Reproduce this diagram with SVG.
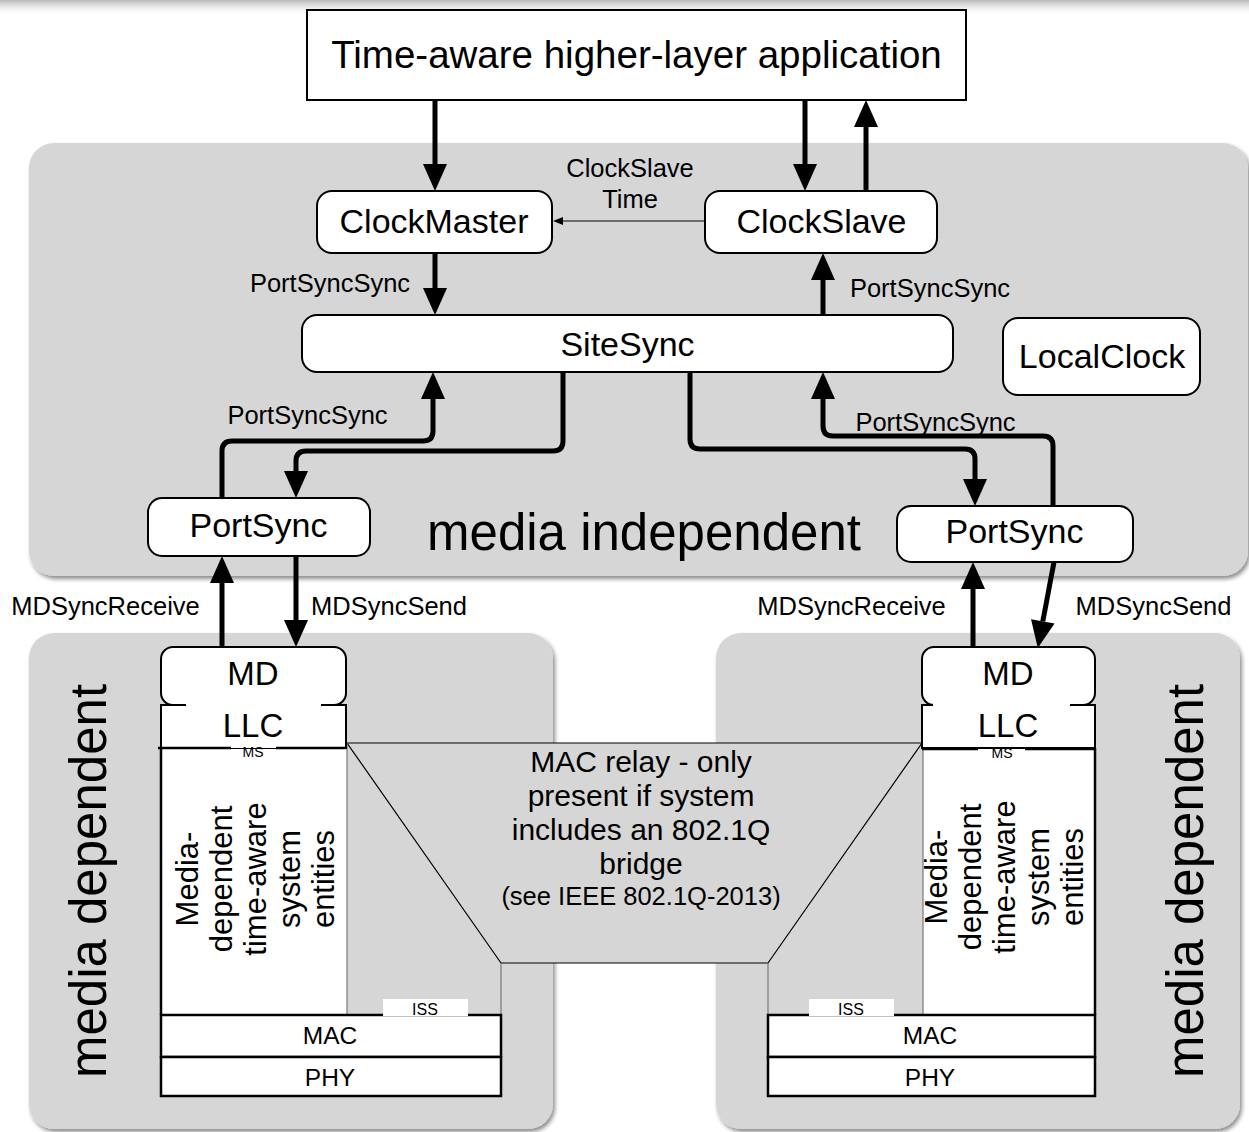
<svg xmlns="http://www.w3.org/2000/svg" width="1249" height="1132" viewBox="0 0 1249 1132">
<defs>
<style>
text{font-family:"Liberation Sans",Arial,sans-serif;fill:#000;text-anchor:middle}
.panel{fill:#d6d6d6;filter:url(#sh)}
.box{fill:#fff;stroke:#000;stroke-width:2}
.big{font-size:34px}
.lbl{font-size:25.5px}
.conn path{fill:none;stroke:#000;stroke-width:5;marker-end:url(#ah)}
.thin{stroke:#777;stroke-width:1.2;fill:none}
.thick{stroke:#000;stroke-width:2.5;fill:none}
</style>
<linearGradient id="topg" x1="0" y1="0" x2="0" y2="1">
<stop offset="0" stop-color="#b8b8b8"/>
<stop offset="1" stop-color="#fff" stop-opacity="0"/>
</linearGradient>
<filter id="sh" x="-5%" y="-5%" width="110%" height="115%">
<feDropShadow dx="2" dy="3" stdDeviation="2" flood-color="#000" flood-opacity="0.45"/>
</filter>
<marker id="ah" markerUnits="userSpaceOnUse" markerWidth="27" markerHeight="24" viewBox="0 0 27 24" refX="0" refY="12" orient="auto" overflow="visible">
<path d="M0,0 L27,12 L0,24 z" fill="#000"/>
</marker>
<marker id="ahs" markerUnits="userSpaceOnUse" markerWidth="10" markerHeight="8" viewBox="0 0 10 8" refX="0" refY="4" orient="auto" overflow="visible">
<path d="M0,0 L10,4 L0,8 z" fill="#000"/>
</marker>
</defs>
<rect x="0" y="0" width="1249" height="16" fill="url(#topg)"/>

<g id="panels">
<rect id="media-independent-panel" class="panel" x="29" y="143" width="1219" height="433" rx="25"/>
<rect id="media-dependent-left-panel" class="panel" x="29" y="633" width="524" height="496" rx="25"/>
<rect id="media-dependent-right-panel" class="panel" x="716" y="633" width="524" height="496" rx="25"/>
</g>

<g id="mac-relay">
<polygon points="347,743 922,743 768,963 501,963" fill="#d6d6d6" stroke="#000" stroke-width="1.2"/>
<text x="641" y="772" font-size="30">MAC relay - only</text>
<text x="641" y="806" font-size="30">present if system</text>
<text x="641" y="840" font-size="30">includes an 802.1Q</text>
<text x="641" y="874" font-size="30">bridge</text>
<text x="641" y="905" font-size="25.5">(see IEEE 802.1Q-2013)</text>
</g>

<g id="top-app">
<rect x="307" y="10" width="659" height="90" fill="#fff" stroke="#000" stroke-width="2"/>
<text x="636.5" y="68" font-size="38.5">Time-aware higher-layer application</text>
</g>
<g id="clockmaster"><rect class="box" x="317" y="191" width="235" height="62" rx="15"/><text class="big" x="434" y="233">ClockMaster</text></g>
<g id="clockslave"><rect class="box" x="705" y="191" width="232" height="62" rx="15"/><text class="big" x="821.5" y="233">ClockSlave</text></g>
<g id="sitesync"><rect class="box" x="302" y="315" width="651" height="57" rx="15"/><text class="big" x="627.5" y="356">SiteSync</text></g>
<g id="localclock"><rect class="box" x="1003" y="318" width="197" height="77" rx="15"/><text class="big" x="1102" y="368">LocalClock</text></g>
<g id="portsync-left"><rect class="box" x="148" y="498" width="222" height="58" rx="14"/><text class="big" x="258.5" y="537">PortSync</text></g>
<g id="portsync-right"><rect class="box" x="897" y="506" width="236" height="56" rx="14"/><text class="big" x="1014.5" y="543">PortSync</text></g>

<text x="644" y="550" font-size="51">media independent</text>
<text transform="translate(106,881) rotate(-90)" font-size="51">media dependent</text>
<text transform="translate(1203,881) rotate(-90)" font-size="51">media dependent</text>

<g id="left-stack">
<rect x="161" y="748" width="186" height="267" fill="#fff"/>
<line class="thin" x1="347" y1="743" x2="347" y2="1015"/>
<line class="thin" x1="501" y1="963" x2="501" y2="1015"/>
<line class="thick" x1="161" y1="748" x2="161" y2="1015"/>
<g id="md-left">
<rect x="161" y="705" width="185" height="43" fill="#fff" stroke="#000" stroke-width="2"/>
<rect x="161" y="647" width="185" height="58" rx="12" fill="#fff" stroke="#000" stroke-width="2"/>
<rect x="186" y="702" width="135" height="6" fill="#fff"/>
<text x="253" y="685" font-size="33">MD</text>
<text x="253" y="737" font-size="33">LLC</text>
<line class="thick" x1="158" y1="748" x2="231" y2="748"/>
<line class="thick" x1="276" y1="748" x2="346" y2="748"/>
<rect x="231" y="744" width="45" height="4" fill="#fff"/>
<text x="253" y="757" font-size="14">MS</text>
</g>
<g font-size="31">
<text transform="translate(198,879) rotate(-90)">Media-</text>
<text transform="translate(232,879) rotate(-90)">dependent</text>
<text transform="translate(266,879) rotate(-90)">time-aware</text>
<text transform="translate(300,879) rotate(-90)">system</text>
<text transform="translate(334,879) rotate(-90)">entities</text>
</g>
<g id="mac-left"><rect x="161" y="1015" width="340" height="42" fill="#fff" stroke="#000" stroke-width="2.5"/><text x="330" y="1044" font-size="24.5">MAC</text></g>
<g id="phy-left"><rect x="161" y="1057" width="340" height="39" fill="#fff" stroke="#000" stroke-width="2.5"/><text x="330" y="1086" font-size="24.5">PHY</text></g>
<g id="iss-left"><rect x="383" y="999" width="85" height="17" fill="#fff"/><text x="425" y="1015" font-size="16">ISS</text></g>
</g>

<g id="right-stack">
<rect x="923" y="748" width="172" height="267" fill="#fff"/>
<line class="thin" x1="923" y1="743" x2="923" y2="1015"/>
<line class="thin" x1="768" y1="963" x2="768" y2="1015"/>
<line class="thick" x1="1095" y1="748" x2="1095" y2="1015"/>
<g id="md-right">
<rect x="922" y="705" width="173" height="43" fill="#fff" stroke="#000" stroke-width="2"/>
<rect x="922" y="647" width="173" height="58" rx="12" fill="#fff" stroke="#000" stroke-width="2"/>
<rect x="933" y="702" width="137" height="6" fill="#fff"/>
<text x="1008" y="685" font-size="33">MD</text>
<text x="1008" y="737" font-size="33">LLC</text>
<line class="thick" x1="922" y1="749" x2="978" y2="749"/>
<line class="thick" x1="1025" y1="749" x2="1095" y2="749"/>
<text x="1002" y="758" font-size="14">MS</text>
</g>
<g font-size="31">
<text transform="translate(947,877) rotate(-90)">Media-</text>
<text transform="translate(981,877) rotate(-90)">dependent</text>
<text transform="translate(1015,877) rotate(-90)">time-aware</text>
<text transform="translate(1049,877) rotate(-90)">system</text>
<text transform="translate(1083,877) rotate(-90)">entities</text>
</g>
<g id="mac-right"><rect x="768" y="1015" width="327" height="42" fill="#fff" stroke="#000" stroke-width="2.5"/><text x="930" y="1044" font-size="24.5">MAC</text></g>
<g id="phy-right"><rect x="768" y="1057" width="327" height="39" fill="#fff" stroke="#000" stroke-width="2.5"/><text x="930" y="1086" font-size="24.5">PHY</text></g>
<g id="iss-right"><rect x="809" y="999" width="85" height="17" fill="#fff"/><text x="851" y="1015" font-size="16">ISS</text></g>
</g>

<g id="connectors" class="conn">
<path d="M435,100 V164"/>
<path d="M805,100 V164"/>
<path d="M866,191 V127"/>
<path d="M435,253 V288"/>
<path d="M823,315 V280"/>
<path d="M222,498 V451 Q222,441 232,441 H423 Q433,441 433,431 V399"/>
<path d="M563,372 V441 Q563,451 553,451 H306 Q296,451 296,461 V471"/>
<path d="M690,372 V439 Q690,449 700,449 H965 Q975,449 975,459 V479"/>
<path d="M1053,506 V446 Q1053,436 1043,436 H833 Q823,436 823,426 V399"/>
<path d="M222,647 V583"/>
<path d="M296,556 V620"/>
<path d="M973,647 V589"/>
<path d="M1054,562 L1042.8,621.4"/>
<path d="M705,221 H563" style="stroke-width:1.2;marker-end:url(#ahs)"/>
</g>

<g id="labels" class="lbl">
<text class="lbl" x="630" y="177">ClockSlave</text>
<text class="lbl" x="630" y="208">Time</text>
<text class="lbl" x="330" y="292">PortSyncSync</text>
<text class="lbl" x="930" y="297">PortSyncSync</text>
<text class="lbl" x="307.5" y="424">PortSyncSync</text>
<text class="lbl" x="935.5" y="431">PortSyncSync</text>
<text class="lbl" x="105.5" y="615">MDSyncReceive</text>
<text class="lbl" x="389" y="615">MDSyncSend</text>
<text class="lbl" x="851.5" y="615">MDSyncReceive</text>
<text class="lbl" x="1153.5" y="615">MDSyncSend</text>
</g>
</svg>
